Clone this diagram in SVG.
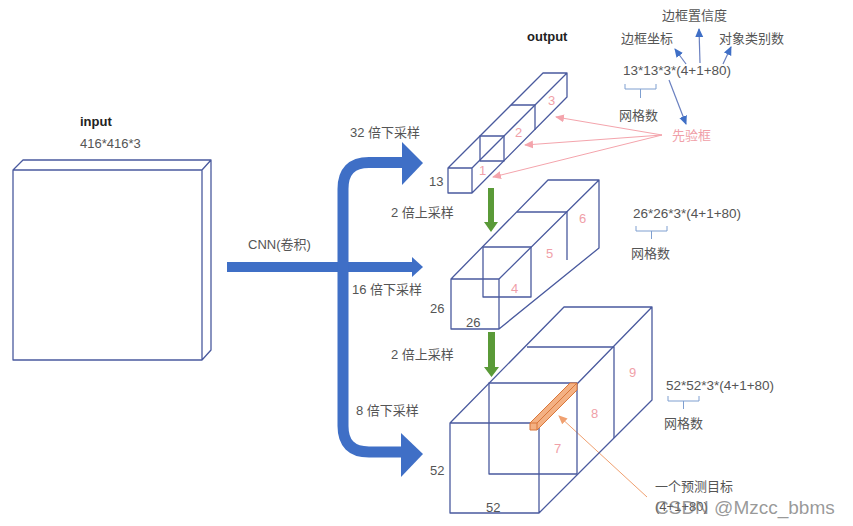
<svg xmlns="http://www.w3.org/2000/svg" width="853" height="526" viewBox="0 0 853 526">
<style>
.box{fill:none;stroke:#4a5a9e;stroke-width:1.3;stroke-linejoin:round}
.t{font-family:"Liberation Sans","Noto Sans CJK SC",sans-serif;font-size:13px;fill:#555}
.f{font-family:"Liberation Sans","Noto Sans CJK SC",sans-serif;font-size:13.5px;fill:#555}
.b{font-family:"Liberation Sans","Noto Sans CJK SC",sans-serif;font-size:13px;font-weight:bold;fill:#222}
.p{font-family:"Liberation Sans","Noto Sans CJK SC",sans-serif;font-size:13px;fill:#f0a0a8}
.br{fill:none;stroke:#7f9fd0;stroke-width:1}
.pk{stroke:#f4a4ac;stroke-width:1;fill:none}
.bl{stroke:#6a80c0;stroke-width:1.2;fill:none}
</style>
<defs>
<marker id="mp" markerWidth="10" markerHeight="10" refX="8" refY="5" orient="auto" markerUnits="userSpaceOnUse"><path d="M0,1 L9,5 L0,9 Z" fill="#f4a4ac"/></marker>
<marker id="mb" markerWidth="10" markerHeight="10" refX="8" refY="5" orient="auto" markerUnits="userSpaceOnUse"><path d="M0,1 L9,5 L0,9 Z" fill="#3f6fc6"/></marker>
<marker id="mo" markerWidth="10" markerHeight="10" refX="8" refY="5" orient="auto" markerUnits="userSpaceOnUse"><path d="M0,1 L9,5 L0,9 Z" fill="#f0a070"/></marker>
</defs>
<rect width="853" height="526" fill="#fff"/>

<g id="input">
<path class="box" d="M13,170 H202 V360 H13 Z M13,170 L23,160 H211 L202,170 M211,160 V350 L202,360"/>
<text class="b" x="80" y="126">input</text>
<text class="t" x="80" y="148">416*416*3</text>
</g>

<g id="connectors">
<path d="M227,267 H413" stroke="#3f6fc6" stroke-width="10" fill="none"/>
<path d="M412,257 L423,267 L412,277 Z" fill="#3f6fc6"/>
<path d="M404,162.5 H369 Q343,162.5 343,189 V426 Q343,452 369,452 H404" stroke="#3f6fc6" stroke-width="11" fill="none"/>
<path d="M402,142 L423,163 L402,185 Z" fill="#3f6fc6"/>
<path d="M401,433 L423,454 L401,477 Z" fill="#3f6fc6"/>
<path d="M488,188 H494 V222 H498 L491,232 L484,222 H488 Z" fill="#5a9a38"/>
<path d="M488,332 H495 V367 H499 L491.5,377 L484,367 H488 Z" fill="#5a9a38"/>
<path class="pk" d="M662,135 L493,177" marker-end="url(#mp)"/>
<path class="pk" d="M662,135 L525,145" marker-end="url(#mp)"/>
<path class="pk" d="M662,135 L556,117" marker-end="url(#mp)"/>
<path d="M647,497 L559,416" stroke="#f0a070" stroke-width="1" fill="none" marker-end="url(#mo)"/>
<path class="bl" d="M686,64 L675,49" marker-end="url(#mb)"/>
<path class="bl" d="M700,63 L699,29" marker-end="url(#mb)"/>
<path class="bl" d="M723,64 L731,47" marker-end="url(#mb)"/>
<path class="bl" d="M669,80 L686,124" marker-end="url(#mb)"/>
</g>

<g id="labels-arrows">
<text class="t" x="350" y="137">32 倍下采样</text>
<text class="t" x="248" y="249">CNN(卷积)</text>
<text class="t" x="352" y="294">16 倍下采样</text>
<text class="t" x="356" y="415">8 倍下采样</text>
<text class="t" x="391" y="217">2 倍上采样</text>
<text class="t" x="391" y="359">2 倍上采样</text>
</g>

<g id="output13">
<text class="b" x="527" y="41">output</text>
<path class="box" d="M448,168 H472 V193 H448 Z M448,168 L543,73 H567 L472,168 M567,73 V97 L472,193"/>
<path class="box" d="M480,136 H504 V161 H480 Z M511,105 H535 V130"/>
<text class="t" x="429" y="186">13</text>
<text class="p" x="479" y="175">1</text>
<text class="p" x="515" y="137">2</text>
<text class="p" x="548" y="105">3</text>
</g>

<g id="output26">
<path class="box" d="M451,279 H499 V329 H451 Z M451,279 L548,180 H599 L499,279 M599,180 V248 L499,329"/>
<path class="box" d="M483,247 H531 V297 H483 Z M517,212 H567 V260"/>
<text class="t" x="430" y="313">26</text>
<text class="t" x="466" y="327">26</text>
<text class="p" x="511" y="293">4</text>
<text class="p" x="546" y="258">5</text>
<text class="p" x="579" y="223">6</text>
</g>

<g id="output52">
<path class="box" d="M450,423 H539 V513 H450 Z M450,423 L564,307 H652 L539,423 M652,307 V400 L539,513"/>
<path class="box" d="M489,383 H577 V474 H489 Z M527,347 H614 V438"/>
<g id="target">
<path d="M530,423 L570,383 H577 V390 L537,430 H530 Z" fill="#f4b183" stroke="#d9773a" stroke-width="1"/>
<path d="M530,423 H537 V430 M537,423 L577,383" fill="none" stroke="#d9773a" stroke-width="1"/>
</g>
<text class="t" x="430" y="475">52</text>
<text class="t" x="486" y="512">52</text>
<text class="p" x="554" y="453">7</text>
<text class="p" x="591" y="418">8</text>
<text class="p" x="629" y="377">9</text>
</g>

<g id="formula13">
<text class="t" x="662" y="20">边框置信度</text>
<text class="t" x="621" y="43">边框坐标</text>
<text class="t" x="719" y="43">对象类别数</text>
<text class="f" x="623" y="75">13*13*3*(4+1+80)</text>
<path class="br" d="M625,84 V89 H656 V84 M640.5,89 V98"/>
<text class="t" x="619" y="120">网格数</text>
<text class="p" x="672" y="140">先验框</text>
</g>

<g id="formula26">
<text class="f" x="633" y="218">26*26*3*(4+1+80)</text>
<path class="br" d="M636,226 V231 H667 V226 M651.5,231 V239"/>
<text class="t" x="631" y="258">网格数</text>
</g>

<g id="formula52">
<text class="f" x="666" y="390">52*52*3*(4+1+80)</text>
<path class="br" d="M668,396 V401 H699 V396 M683.5,401 V409"/>
<text class="t" x="664" y="428">网格数</text>
<text class="t" x="655" y="491">一个预测目标</text>
<text class="t" x="655" y="511">(4+1+80)</text>
<text x="655" y="514" font-family="Liberation Sans,Noto Sans CJK SC,sans-serif" font-size="19" fill="#777" fill-opacity="0.75">CSDN @Mzcc_bbms</text>
</g>
</svg>
